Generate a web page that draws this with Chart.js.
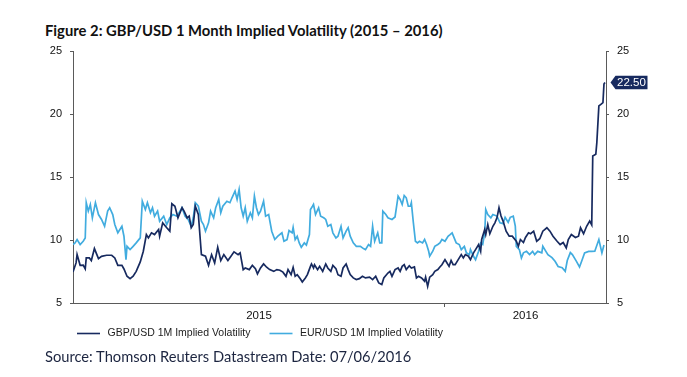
<!DOCTYPE html>
<html>
<head>
<meta charset="utf-8">
<script src="https://cdn.jsdelivr.net/npm/chart.js@4/dist/chart.umd.min.js"></script>
<style>
  body { margin: 0; width: 687px; height: 377px; background: #fff; position: relative; overflow: hidden; }
  #grafico { position: absolute; left: 0; top: 0; }
  .titulo { position: absolute; left: 45px; top: 22px; font: bold 14.8px Lato, sans-serif; line-height: 16px; color: #111; white-space: nowrap; }
  .fuente { position: absolute; left: 45px; top: 348px; font: 14.7px Lato, sans-serif; line-height: 16px; color: #1c2540; white-space: nowrap; }
</style>
</head>
<body>
<div class="titulo">Figure 2: GBP/USD 1 Month Implied Volatility (2015 – 2016)</div>
<canvas id="grafico" width="687" height="377"></canvas>
<div class="fuente">Source: Thomson Reuters Datastream Date: 07/06/2016</div>
<script>
// dias desde 01/01/2015
const gbpDias = [0, 3, 4, 7, 10, 12, 13, 16, 18, 21, 25, 28, 33, 38, 41, 44, 48, 50, 53, 56, 59, 62, 66, 69, 72, 74, 77, 80, 84, 85, 88, 92, 95, 97, 100, 103, 107, 109, 112, 114, 116, 118, 120, 123, 125, 126, 130, 133, 136, 139, 142, 145, 148, 152, 155, 158, 162, 164, 167, 169, 173, 176, 179, 181, 184, 187, 190, 193, 197, 200, 203, 206, 209, 211, 214, 216, 218, 220, 223, 225, 228, 230, 233, 234, 236, 237, 240, 242, 245, 248, 250, 253, 255, 258, 260, 263, 265, 268, 270, 272, 275, 278, 281, 284, 287, 291, 294, 297, 300, 303, 305, 309, 311, 313, 316, 319, 321, 323, 325, 327, 330, 332, 335, 337, 339, 342, 345, 346, 348, 350, 353, 355, 358, 360, 362, 365, 367, 369, 371, 373, 375, 378, 381, 383, 385, 388, 390, 393, 395, 398, 400, 401, 404, 405, 407, 409, 412, 414, 416, 418, 420, 422, 425, 428, 431, 435, 437, 439, 442, 444, 447, 449, 452, 455, 458, 461, 465, 468, 471, 475, 478, 481, 484, 486, 489, 493, 496, 498, 501, 504, 507, 509, 510, 513, 514, 516, 518, 520, 521, 522];
const gbpVol = [7.47, 8.18, 8.84, 7.99, 8.0, 7.7, 8.58, 8.58, 8.37, 9.32, 8.52, 8.7, 8.79, 8.79, 8.58, 7.99, 7.99, 7.7, 7.12, 6.93, 7.12, 7.51, 8.26, 9.11, 10.43, 10.17, 10.57, 10.43, 10.83, 10.3, 11.36, 10.97, 10.7, 12.88, 12.68, 11.76, 12.56, 12.29, 11.76, 11.89, 10.97, 11.23, 12.68, 12.02, 9.9, 8.84, 8.71, 7.99, 8.84, 8.18, 9.42, 8.37, 8.84, 8.37, 8.71, 9.06, 8.84, 8.98, 7.65, 7.78, 7.65, 7.99, 7.73, 7.31, 7.78, 8.1, 7.84, 7.65, 7.51, 7.65, 7.6, 7.45, 7.12, 7.65, 7.25, 7.83, 7.12, 7.25, 6.93, 6.67, 6.99, 7.25, 7.91, 8.1, 7.78, 8.04, 7.65, 7.91, 7.51, 8.1, 7.78, 7.51, 7.99, 7.73, 7.25, 7.12, 7.78, 8.1, 7.65, 7.25, 6.99, 6.86, 6.93, 7.12, 6.99, 7.05, 6.86, 7.12, 6.59, 6.46, 6.99, 7.38, 7.51, 7.12, 7.65, 7.78, 7.51, 7.91, 8.04, 7.65, 7.96, 7.78, 7.86, 6.99, 7.12, 6.99, 6.73, 7.05, 6.32, 7.05, 7.25, 7.51, 7.65, 7.86, 8.04, 8.44, 8.18, 7.91, 8.38, 8.04, 8.04, 8.44, 8.84, 8.58, 8.84, 8.71, 8.44, 8.98, 9.24, 9.64, 9.11, 10.04, 10.83, 10.43, 11.23, 10.5, 11.09, 11.36, 11.76, 12.56, 11.9, 11.5, 10.7, 10.3, 10.3, 9.9, 9.5, 10.04, 9.8, 10.2, 10.57, 10.5, 10.7, 9.9, 10.1, 10.7, 10.97, 10.7, 10.3, 9.9, 9.64, 9.8, 9.37, 10.04, 10.43, 10.2, 10.3, 10.97, 10.5, 11.09, 11.5, 11.2, 16.66, 16.8, 17.73, 20.64, 20.77, 20.9, 22.37, 22.5];

const eurDias = [0, 2, 4, 7, 10, 12, 13, 15, 17, 19, 22, 25, 28, 31, 34, 36, 39, 41, 44, 48, 50, 52, 53, 56, 59, 62, 66, 68, 71, 73, 76, 78, 80, 83, 85, 89, 92, 95, 98, 102, 105, 107, 110, 113, 116, 118, 120, 123, 126, 128, 130, 133, 135, 138, 140, 143, 145, 147, 151, 154, 156, 159, 161, 163, 165, 167, 169, 171, 174, 176, 178, 180, 182, 184, 187, 189, 192, 195, 198, 201, 205, 207, 210, 212, 215, 216, 218, 220, 222, 224, 227, 229, 232, 233, 235, 236, 238, 241, 243, 246, 248, 250, 253, 255, 258, 260, 263, 265, 268, 270, 272, 275, 278, 282, 285, 287, 290, 292, 294, 296, 299, 301, 303, 304, 307, 309, 313, 316, 319, 321, 323, 325, 327, 329, 331, 332, 334, 336, 338, 340, 343, 345, 347, 349, 350, 353, 355, 358, 360, 362, 365, 368, 370, 372, 374, 376, 379, 381, 384, 386, 389, 390, 393, 395, 398, 400, 402, 404, 405, 407, 410, 412, 416, 419, 422, 424, 427, 429, 432, 434, 435, 438, 440, 442, 445, 448, 451, 453, 456, 460, 461, 464, 466, 470, 473, 476, 480, 483, 485, 488, 490, 494, 497, 499, 502, 506, 509, 512, 516, 519, 521];
const eurVol = [9.64, 9.77, 10.03, 9.64, 9.9, 10.16, 12.96, 12.29, 12.82, 11.76, 12.96, 12.02, 11.63, 11.09, 12.29, 12.56, 12.02, 11.23, 10.57, 11.09, 10.3, 8.44, 9.5, 9.24, 9.5, 9.77, 10.17, 13.08, 12.42, 12.96, 12.16, 12.56, 11.89, 12.29, 11.49, 11.89, 11.23, 11.76, 12.02, 11.89, 12.29, 12.56, 11.89, 11.63, 11.09, 11.76, 12.96, 12.68, 11.49, 11.23, 10.7, 11.36, 12.29, 11.76, 12.56, 13.22, 12.16, 12.68, 13.08, 12.96, 13.35, 13.88, 13.22, 14.01, 12.56, 11.89, 12.56, 11.49, 12.16, 11.76, 13.48, 12.56, 12.02, 12.29, 13.08, 11.89, 12.02, 10.7, 10.04, 10.3, 10.57, 9.9, 10.03, 10.75, 10.57, 11.0, 10.03, 10.3, 9.77, 9.42, 9.77, 9.6, 10.43, 12.42, 12.68, 12.82, 12.02, 12.56, 11.89, 11.76, 11.63, 11.09, 11.23, 10.57, 10.17, 10.3, 11.09, 10.17, 10.7, 10.97, 10.3, 9.77, 9.5, 9.5, 9.32, 9.24, 9.64, 9.5, 11.09, 9.9, 10.57, 9.77, 9.77, 12.29, 12.02, 11.76, 11.63, 11.83, 13.48, 13.22, 12.82, 13.53, 13.35, 12.68, 12.68, 12.96, 11.36, 9.9, 9.77, 9.9, 9.77, 10.04, 9.64, 9.11, 8.71, 9.11, 9.5, 9.64, 9.77, 10.04, 9.9, 10.3, 10.43, 10.57, 10.17, 9.77, 9.64, 9.24, 9.5, 8.98, 8.84, 9.24, 8.71, 8.44, 9.11, 9.77, 9.64, 10.57, 12.42, 12.02, 11.76, 12.02, 11.9, 11.36, 11.3, 11.8, 11.4, 11.8, 11.89, 11.1, 9.5, 9.24, 8.58, 8.98, 9.1, 8.84, 9.1, 8.84, 9.1, 8.98, 9.5, 9.1, 8.84, 8.6, 8.31, 7.9, 7.8, 7.51, 8.37, 9.0, 8.84, 8.3, 7.86, 8.3, 8.98, 9.1, 9.1, 9.11, 10.04, 8.98, 9.6];

const nombresSeries = ["GBP/USD 1M Implied Volatility", "EUR/USD 1M Implied Volatility"];
const coloresSeries = ["#172a5f", "#41acdf"];

const etiquetasAnios = ["2015", "2016"];
const centrosAnios = [182.5, 444];
const cambioAnio = 365;
const ultimoDia = 523;
const ticksY = [5, 10, 15, 20, 25];

const colorEje = "#5a5a5a";
const fuenteEjes = { family: "'Liberation Sans', Arial, sans-serif", size: 11 };

// leyenda dibujada a mano y etiqueta del ultimo valor
const pluginExtras = {
  id: "extras",
  afterDraw(chart) {
    const ctx = chart.ctx;
    ctx.save();
    // leyenda
    const posLeyenda = [77, 269.5];
    ctx.font = "10.5px 'Liberation Sans', Arial, sans-serif";
    ctx.textBaseline = "middle";
    nombresSeries.forEach((nombre, i) => {
      ctx.strokeStyle = coloresSeries[i];
      ctx.lineWidth = 1.6;
      ctx.beginPath();
      ctx.moveTo(posLeyenda[i], 333.5);
      ctx.lineTo(posLeyenda[i] + 23, 333.5);
      ctx.stroke();
      ctx.fillStyle = "#222";
      ctx.fillText(nombre, posLeyenda[i] + 30.5, 333.5);
    });
    // marcador 22.50
    const ultimo = gbpVol[gbpVol.length - 1];
    const y = chart.scales.y2.getPixelForValue(ultimo);
    const xIni = chart.chartArea.right + 4.5;
    ctx.fillStyle = coloresSeries[0];
    ctx.beginPath();
    ctx.moveTo(xIni, y);
    ctx.lineTo(xIni + 5, y - 6.8);
    ctx.lineTo(xIni + 37, y - 6.8);
    ctx.lineTo(xIni + 37, y + 6.8);
    ctx.lineTo(xIni + 5, y + 6.8);
    ctx.closePath();
    ctx.fill();
    ctx.fillStyle = "#fff";
    ctx.font = "11.5px 'Liberation Sans', Arial, sans-serif";
    ctx.textAlign = "left";
    ctx.fillText(ultimo.toFixed(2), xIni + 6.5, y + 0.5);
    ctx.restore();
  }
};

new Chart(document.getElementById("grafico"), {
  type: "line",
  data: {
    datasets: [
      {
        label: nombresSeries[0],
        data: gbpDias.map((d, i) => ({ x: d, y: gbpVol[i] })),
        borderColor: coloresSeries[0],
        borderWidth: 1.7,
        pointRadius: 0,
        tension: 0,
        yAxisID: "y",
        order: 1
      },
      {
        label: nombresSeries[1],
        data: eurDias.map((d, i) => ({ x: d, y: eurVol[i] })),
        borderColor: coloresSeries[1],
        borderWidth: 1.7,
        pointRadius: 0,
        tension: 0,
        yAxisID: "y",
        order: 2
      }
    ]
  },
  options: {
    responsive: false,
    animation: false,
    devicePixelRatio: 1,
    layout: { padding: { top: 51, left: 0, right: 0, bottom: 0 } },
    plugins: { legend: { display: false }, tooltip: { enabled: false }, title: { display: false } },
    scales: {
      x: {
        type: "linear",
        min: 0,
        max: ultimoDia,
        afterFit(scale) { scale.height = 74; },
        afterBuildTicks(scale) {
          scale.ticks = [
            { value: centrosAnios[0] },
            { value: cambioAnio },
            { value: centrosAnios[1] }
          ];
        },
        border: { display: true, color: colorEje, width: 1 },
        grid: {
          drawOnChartArea: false,
          drawTicks: true,
          tickLength: 4,
          tickColor: (c) => (c.tick && c.tick.value === cambioAnio ? colorEje : "rgba(0,0,0,0)")
        },
        ticks: {
          autoSkip: false,
          maxRotation: 0,
          padding: 2,
          color: "#111",
          font: { family: fuenteEjes.family, size: 11.5 },
          callback: (v) => {
            const k = centrosAnios.indexOf(v);
            return k >= 0 ? etiquetasAnios[k] : "";
          }
        }
      },
      y: {
        position: "left",
        min: 5,
        max: 25,
        afterFit(scale) { scale.width = 73; },
        afterBuildTicks(scale) { scale.ticks = ticksY.map((v) => ({ value: v })); },
        border: { display: true, color: colorEje, width: 1 },
        grid: { drawOnChartArea: false, drawTicks: true, tickLength: 3, color: colorEje },
        ticks: { padding: 8, color: "#111", font: fuenteEjes }
      },
      y2: {
        position: "right",
        min: 5,
        max: 25,
        afterFit(scale) { scale.width = 81; },
        afterBuildTicks(scale) { scale.ticks = ticksY.map((v) => ({ value: v })); },
        border: { display: true, color: colorEje, width: 1 },
        grid: { drawOnChartArea: false, drawTicks: true, tickLength: 3, color: colorEje },
        ticks: { padding: 8, color: "#111", font: fuenteEjes }
      }
    }
  },
  plugins: [pluginExtras]
});
</script>
</body>
</html>
